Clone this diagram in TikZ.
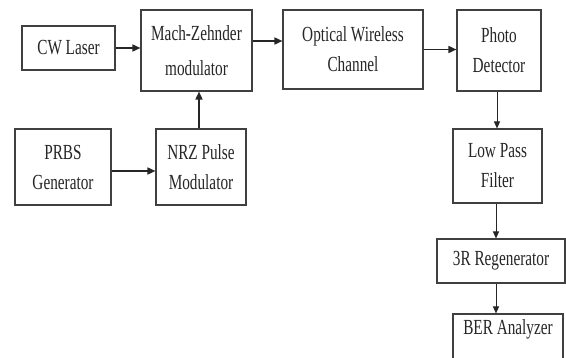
\documentclass[tikz,border=0pt]{standalone}
\usepackage{fontspec}
\setmainfont{Liberation Serif}[FakeStretch=0.71]
\usetikzlibrary{arrows.meta}
\begin{document}
\begin{tikzpicture}[x=1pt,y=-1pt,
 blk/.style={draw=black!75,line width=1.1pt,inner sep=0pt,align=center,font=\fontsize{21.5}{30}\selectfont,text=black!85},
 conn/.style={line width=1.6pt,black!85,-{Triangle[length=8pt,width=7pt]}},
 vconn/.style={line width=1pt,black!85,-{Triangle[length=7pt,width=6pt]}}]
\fill[white] (0,0) rectangle (566,358);
\clip (0,0) rectangle (566,358);
\node[blk,minimum width=93pt,minimum height=44pt] (cw) at (68.5,48) {CW Laser};
\node[blk,minimum width=111pt,minimum height=81pt,font=\fontsize{21.5}{35}\selectfont] (mz) at (196.5,50.5) {Mach-Zehnder\\modulator};
\node[blk,minimum width=140pt,minimum height=79pt] (owc) at (353,49.5) {Optical Wireless\\Channel};
\node[blk,minimum width=84pt,minimum height=81pt] (pd) at (499,50.5) {Photo\\Detector};
\node[blk,minimum width=96pt,minimum height=76pt] (prbs) at (63,167) {PRBS\\Generator};
\node[blk,minimum width=90pt,minimum height=76pt] (nrz) at (201,167) {NRZ Pulse\\Modulator};
\node[blk,minimum width=89pt,minimum height=74pt] (lpf) at (497.5,166) {Low Pass\\Filter};
\node[blk,minimum width=128pt,minimum height=44pt] (r3) at (501,261) {3R Regenerator};
\node[blk,minimum width=110pt,minimum height=48pt,text depth=22pt] (ber) at (508,338) {BER Analyzer};
\draw[conn] (cw.east) -- (cw.east -| mz.west);
\draw[conn] ([yshift=9.5pt]mz.east) -- ([yshift=9.5pt]mz.east -| owc.west);
\draw[conn] (owc.east) -- (owc.east -| pd.west);
\draw[conn] ([yshift=-4pt]prbs.east) -- ([yshift=-4pt]prbs.east -| nrz.west);
\draw[conn] ([xshift=-2pt]nrz.north) -- ([xshift=-2pt]nrz.north |- mz.south);
\draw[vconn] ([xshift=-2pt]pd.south) -- ([xshift=-2pt]pd.south |- lpf.north);
\draw[vconn] ([xshift=-1.5pt]lpf.south) -- ([xshift=-1.5pt]lpf.south |- r3.north);
\draw[vconn] ([xshift=-1.5pt]lpf.south |- r3.south) -- ([xshift=-1.5pt]lpf.south |- ber.north);
\end{tikzpicture}
\end{document}
